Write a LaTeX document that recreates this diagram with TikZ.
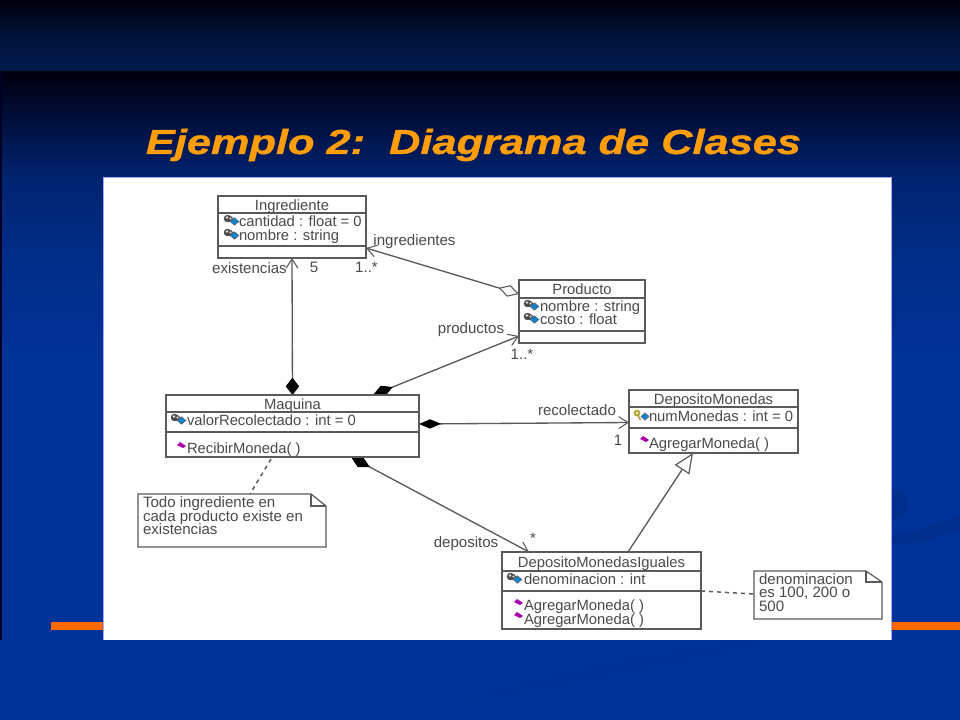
\documentclass[tikz,border=0pt]{standalone}
\usepackage{fontspec}
\setmainfont{Liberation Sans}
\newfontface\titlefont[FakeBold=0.9]{Liberation Sans Bold Italic}
\usetikzlibrary{arrows.meta,calc}
\AtBeginDocument{\lineskiplimit=-20pt\relax}
\definecolor{ink}{HTML}{4A4A4A}
\definecolor{rule}{HTML}{5A5A5A}
\definecolor{titleor}{HTML}{FF9D0A}
\definecolor{baror}{HTML}{FF6A00}
\pgfdeclarelayer{bg}
\pgfdeclarelayer{conn}
\pgfsetlayers{bg,conn,main}
\definecolor{b0}{HTML}{00000F}
\definecolor{b1}{HTML}{001238}
\definecolor{b2}{HTML}{001C50}
\definecolor{c1}{HTML}{001040}
\definecolor{c2}{HTML}{00236E}
\definecolor{c25}{HTML}{002C85}
\definecolor{c3}{HTML}{003399}
\pgfdeclareverticalshading{bandA}{100bp}{color(0bp)=(b2);color(25bp)=(b2);color(50bp)=(b1);color(75bp)=(b0);color(100bp)=(b0)}
\pgfdeclareverticalshading{bandB}{100bp}{color(0bp)=(c3);color(52bp)=(c3);color(61.25bp)=(c25);color(67bp)=(c2);color(70.9bp)=(c1);color(75bp)=(b0);color(100bp)=(b0)}
\tikzset{
  x=0.75pt,y=-0.75pt,
  classbox/.style={draw=rule,line width=0.9pt,fill=white,rectangle,inner sep=0pt,outer sep=0pt},
  divider/.style={draw=rule,line width=0.9pt},
  umltext/.style={text=ink,font=\fontsize{11.1}{13}\selectfont,inner sep=0pt,outer sep=0pt,text height=9.2pt,text depth=1.2pt},
  member/.style={umltext,anchor=west},
  rolelabel/.style={umltext,font=\fontsize{11.3}{13}\selectfont},
  notebody/.style={rectangle,inner sep=0pt,outer sep=0pt},
  notetext/.style={text=ink,inner sep=0pt,outer sep=0pt,anchor=north west,align=left,font=\fontsize{11.3}{10}\selectfont},
  assoc/.style={draw=rule,line width=1pt},
  comp/.style={{Diamond[length=16pt,width=8.5pt,fill=black,color=black]}-{Straight Barb[length=7pt,width=9pt,line width=0.8pt]}},
  compv/.style={{Diamond[length=13pt,width=10pt,fill=black,color=black]}-{Straight Barb[length=7pt,width=9pt,line width=0.8pt]}},
  comph/.style={{Diamond[length=16.5pt,width=7pt,fill=black,color=black]}-{Straight Barb[length=7pt,width=9pt,line width=0.8pt]}},
  aggr/.style={{Diamond[open,length=16pt,width=9pt,line width=0.8pt]}-{Straight Barb[length=7pt,width=9pt,line width=0.8pt]}},
  genl/.style={-{Triangle[open,length=15pt,width=13pt,line width=0.9pt,fill=white]}},
  notelink/.style={draw=rule,line width=1.1pt,dash pattern=on 3pt off 3pt},
}
\newlength{\boxw}
\newlength{\boxh}
\newcommand{\classnode}[6]{% name, x1, y1, x2, y2, title centre y
  \pgfmathsetlength{\boxw}{(#4-#2)*0.75pt}
  \pgfmathsetlength{\boxh}{(#5-#3)*0.75pt}
  \node[classbox,minimum width=\boxw,minimum height=\boxh] (#1) at ({(#2+#4)/2},{(#3+#5)/2}) {};
  \node[umltext] (#1title) at ({(#2+#4)/2},#6) {#1};
}
\newcommand{\sepline}[2]{\draw[divider] (#1.west |- 0,#2) -- (#1.east |- 0,#2);}
\newcommand{\attricon}[2]{%
  \fill[gray!60!black] (#1+3.5,#2-1.5) circle (2.8pt);
  \fill[gray!60!black] (#1+6,#2-1) circle (2.3pt);
  \fill[white!75!gray] (#1+3,#2-2.5) circle (1.1pt);
  \fill[white!75!gray] (#1+6.5,#2-1.5) circle (0.8pt);
  \draw[black!60,fill=cyan!65!blue,line width=0.4pt] (#1+6,#2+1.5) -- (#1+10.5,#2-2.2) -- (#1+15,#2+1.5) -- (#1+10.5,#2+5.2) -- cycle;
}
\newcommand{\keyicon}[2]{%
  \fill[yellow!65!black] (#1+4,#2-2) circle (2.6pt);
  \fill[white] (#1+4,#2-2) circle (0.9pt);
  \draw[yellow!60!black,line width=1.2pt] (#1+5,#2+0.5) -- (#1+7.5,#2+5);
  \draw[black!60,fill=cyan!65!blue,line width=0.4pt] (#1+8,#2+1.5) -- (#1+12,#2-2.2) -- (#1+16,#2+1.5) -- (#1+12,#2+5.2) -- cycle;
}
\newcommand{\opicon}[2]{%
  \fill[violet!65!magenta] (#1,#2-1) -- (#1+3,#2-4) -- (#1+9,#2) -- (#1+6,#2+2) -- cycle;
}
\begin{document}
\begin{tikzpicture}
\useasboundingbox (0,0) rectangle (960,720);
\begin{pgfonlayer}{bg}
  \shade[shading=bandA] (0,0) rectangle (960,72);
  \shade[shading=bandB] (0,72) rectangle (960,720);
  \fill[black!85!blue] (0,72) rectangle (2,640);
  % faint swooshes of the slide template
  \fill[black,opacity=0.08] (891,488) .. controls (903,488) and (908,498) .. (907,507) .. controls (906,515) and (900,520) .. (891,521) -- cycle;
  \fill[black,opacity=0.08] (891,534) .. controls (920,532) and (945,522) .. (960,515) -- (960,530) .. controls (940,538) and (915,544) .. (891,545) -- cycle;
  \fill[black,opacity=0.03] (740,640) .. controls (640,655) and (540,675) .. (440,705) .. controls (550,690) and (650,670) .. (780,640) -- cycle;
  % orange rule
  \fill[baror] (51,622) rectangle (960,630);
  % white panel
  \fill[white] (103,177) rectangle (891,640);
  \draw[blue!35!white,line width=0.6pt] (103,640) -- (103,177) -- (891,177) -- (891,640);
\end{pgfonlayer}

\node[text=titleor,font=\titlefont\fontsize{26}{30}\selectfont,xscale=1.25,inner sep=0pt] (slidetitle) at (473.5,145) {Ejemplo 2:\ \ Diagrama de Clases};

% classes
\classnode{Ingrediente}{218}{196}{366}{258}{205}
\sepline{Ingrediente}{213}\sepline{Ingrediente}{246}
\attricon{224}{220}\attricon{224}{234}
\node[member] (ingA) at (239,221) {cantidad : float = 0};
\node[member] (ingB) at (239,235) {nombre : string};

\classnode{Producto}{519}{280}{645}{343}{289}
\sepline{Producto}{298}\sepline{Producto}{331}
\attricon{524}{305}\attricon{524}{318}
\node[member] (proA) at (540,306) {nombre : string};
\node[member] (proB) at (540,319) {costo : float};

\classnode{Maquina}{166}{395}{419}{457}{404}
\sepline{Maquina}{412}\sepline{Maquina}{432}
\attricon{171}{419}
\node[member] (maqA) at (187,420) {valorRecolectado : int = 0};
\opicon{177}{446}
\node[member] (maqB) at (187,448) {RecibirMoneda( )};

\classnode{DepositoMonedas}{629}{390}{798}{453}{399}
\sepline{DepositoMonedas}{407}\sepline{DepositoMonedas}{428}
\keyicon{633}{415}
\node[member] (depA) at (649,416) {numMonedas : int = 0};
\opicon{640}{440}
\node[member] (depB) at (649,443) {AgregarMoneda( )};

\classnode{DepositoMonedasIguales}{502}{552}{701}{629}{562}
\sepline{DepositoMonedasIguales}{571}\sepline{DepositoMonedasIguales}{591}
\attricon{507}{578}
\node[member] (dmiA) at (524,579) {denominacion : int};
\opicon{514}{603}\opicon{514}{616}
\node[member] (dmiB) at (524,605) {AgregarMoneda( )};
\node[member] (dmiC) at (524,619) {AgregarMoneda( )};

% notes
\node[notebody,minimum width=141pt,minimum height=39.75pt] (noteA) at (232,520.5) {};
\draw[divider] (noteA.north west) -- ($(noteA.north east)+(-15,0)$) -- ($(noteA.north east)+(0,12)$) -- (noteA.south east) -- (noteA.south west) -- cycle;
\draw[divider] ($(noteA.north east)+(-15,0)$) -- ($(noteA.north east)+(-15,12)$) -- ($(noteA.north east)+(0,12)$);
\node[notetext] (noteAtext) at (143,497) {Todo ingrediente en\\cada producto existe en\\existencias};

\node[notebody,minimum width=96pt,minimum height=36pt] (noteB) at (818,595) {};
\draw[divider] (noteB.north west) -- ($(noteB.north east)+(-16,0)$) -- ($(noteB.north east)+(0,11)$) -- (noteB.south east) -- (noteB.south west) -- cycle;
\draw[divider] ($(noteB.north east)+(-16,0)$) -- ($(noteB.north east)+(-16,11)$) -- ($(noteB.north east)+(0,11)$);
\node[notetext] (noteBtext) at (759,573.5) {denominacion\\es 100, 200 o\\500};

% connectors, behind the boxes
\begin{pgfonlayer}{conn}
  \draw[assoc,compv] (Maquina.north) -- (Ingrediente.south);
  \draw[assoc,aggr] ($(Producto.north west)+(0,14)$) -- ($(Ingrediente.south east)+(0,-10)$);
  \draw[assoc,comp] ($(Maquina.north east)+(-46,0)$) -- ($(Producto.south west)+(0,-7)$);
  \draw[assoc,comph] ($(Maquina.east)+(0,-2)$) -- ($(DepositoMonedas.west)+(0,1)$);
  \draw[assoc,comp] ($(Maquina.south east)+(-68,0)$) -- ($(DepositoMonedasIguales.north west)+(27,0)$);
  \draw[assoc,genl] ($(DepositoMonedasIguales.north east)+(-73,0)$) -- ($(DepositoMonedas.south east)+(-105,0)$);
  \draw[notelink] ($(Maquina.south west)+(105,2)$) -- ($(noteA.north west)+(112,0)$);
  \draw[notelink] ($(DepositoMonedasIguales.east)+(0,0.5)$) -- ($(noteB.west)+(0,-1)$);
\end{pgfonlayer}

% role labels and multiplicities
\node[rolelabel] (lbIng) at (414.5,240) {ingredientes};
\node[rolelabel] (lbEx) at (249.5,268) {existencias};
\node[rolelabel] (lbFive) at (314,267.5) {5};
\node[rolelabel] (lbOneA) at (366.5,267.5) {1..*};
\node[rolelabel] (lbProd) at (471,328.5) {productos};
\node[rolelabel] (lbOneB) at (522,354) {1..*};
\node[rolelabel] (lbRec) at (577,410) {recolectado};
\node[rolelabel] (lbOne) at (618,440) {1};
\node[rolelabel] (lbStar) at (533,538.5) {*};
\node[rolelabel] (lbDep) at (466,542) {depositos};
\end{tikzpicture}
\end{document}
